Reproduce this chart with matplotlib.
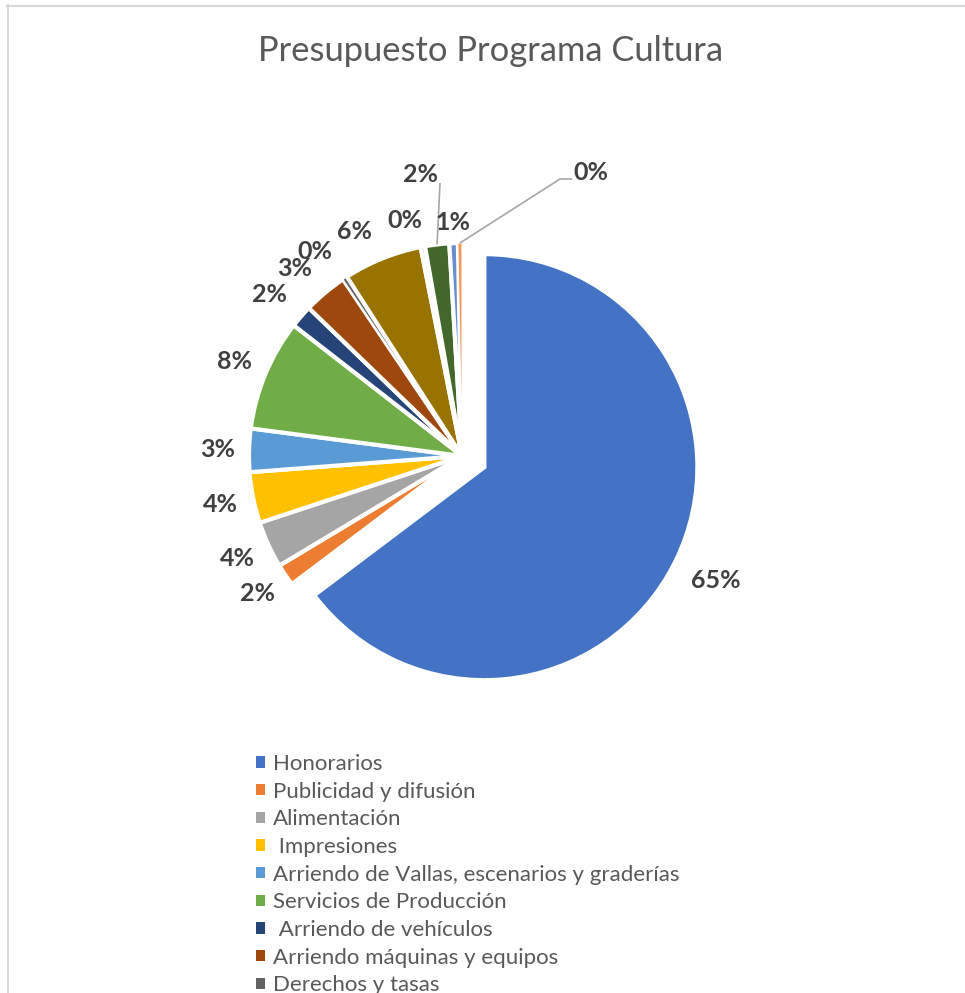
import matplotlib
matplotlib.use("Agg")
import matplotlib.pyplot as plt
import matplotlib.patches as mpatches
from matplotlib.lines import Line2D
import numpy as np

# ---------------- data ----------------
title = "Presupuesto Programa Cultura"
categories = ["Honorarios", "Publicidad y difusión", "Alimentación", " Impresiones",
              "Arriendo de Vallas, escenarios y graderías", "Servicios de Producción",
              " Arriendo de vehículos", "Arriendo máquinas y equipos", "Derechos y tasas",
              "", "", "", "", ""]
values = [64.72, 1.67, 3.53, 3.86, 3.28, 8.44, 1.72, 3.33, 0.36, 5.97, 0.33, 1.83, 0.64, 0.31]
colors = ["#4472C4", "#ED7D31", "#A5A5A5", "#FFC000", "#5B9BD5", "#70AD47",
          "#264478", "#9E480E", "#636363", "#997300", "#255E91", "#43682B",
          "#698ED0", "#F1975A"]
n_legend = 9  # entries visible in the figure

# ---------------- figure ----------------
W, H = 965, 993
fig = plt.figure(figsize=(W / 100, H / 100), dpi=100)
fig.patch.set_facecolor("white")
ax = fig.add_axes([0, 0, 1, 1])

cx, cy, R = 462, H - 456, 213
explode = [25] + [0] * (len(values) - 1)   # data units (pixels)
label_font = dict(family=["Lato", "DejaVu Sans"], weight="bold", size=18, color="#404040")

wedges, texts, autotexts = ax.pie(
    values, colors=colors, explode=explode, startangle=90, counterclock=False,
    center=(cx, cy), radius=R, autopct="%1.0f%%", pctdistance=1.18,
    wedgeprops=dict(edgecolor="white", linewidth=3), textprops=label_font)

wedges[8].set_linewidth(0.8)    # very thin slices stay visible
wedges[13].set_linewidth(0.8)

ax.set_xlim(0, W)
ax.set_ylim(0, H)
ax.set_aspect("auto")
ax.axis("off")

# place labels just outside the end of each slice (box-aware, like "outside end")
renderer = fig.canvas.get_renderer()
gap = 14
# small label nudges (pixels, +x right, +y down) to mimic the collision-avoided layout
nudges = {0: (5, 0), 6: (-6, 0), 7: (-10, 0), 8: (-13, 0), 9: (-17, 0), 10: (-13, 0), 12: (0, 3)}
overrides = {11: dict(text=(420, 175), path=[(440, 183)]),
             13: dict(text=(591, 173), path=[(560, 179), (572, 179)])}
for i, (w, t) in enumerate(zip(wedges, autotexts)):
    if i in overrides:
        continue
    th = np.deg2rad((w.theta1 + w.theta2) / 2)
    ux, uy = np.cos(th), np.sin(th)
    bb = t.get_window_extent(renderer)
    hw, hh = bb.width / 2, bb.height / 2 * 0.8
    d = w.r + gap + hw * abs(ux) + hh * abs(uy)
    ndx, ndy = nudges.get(i, (0, 0))
    t.set_position((w.center[0] + d * ux + ndx, w.center[1] + d * uy - ndy))

# labels moved with leader lines (pixel positions, y from top)
leader_col = "#A6A6A6"
for i, spec in overrides.items():
    w = wedges[i]
    th = np.deg2rad((w.theta1 + w.theta2) / 2)
    ox = w.center[0] + w.r * np.cos(th)
    oy = w.center[1] + w.r * np.sin(th)
    xs = [ox] + [p[0] for p in spec["path"]]
    ys = [oy] + [H - p[1] for p in spec["path"]]
    ax.plot(xs, ys, color=leader_col, lw=1.2, solid_capstyle="butt")
    autotexts[i].set_position((spec["text"][0], H - spec["text"][1]))

# title
fig.text(491 / W, 1 - 51 / H, title, ha="center", va="center", fontsize=24.8,
         color="#595959", family=["Lato", "DejaVu Sans"])

# legend
handles = [mpatches.Patch(facecolor=c, edgecolor="none") for c in colors[:n_legend]]
leg = fig.legend(handles, categories[:n_legend], loc="upper left",
                 bbox_to_anchor=(256 / W, 1 - 754 / H), bbox_transform=fig.transFigure,
                 frameon=False, borderpad=0, borderaxespad=0,
                 handlelength=0.4, handleheight=0.4, handletextpad=0.36,
                 labelspacing=0.345, prop=dict(family=["Lato", "DejaVu Sans"], size=16))
for t in leg.get_texts():
    t.set_color("#595959")

# chart area border (left and top visible)
fig.add_artist(Line2D([8 / W, 8 / W], [0, 1 - 5 / H], transform=fig.transFigure,
                      color="#D9D9D9", lw=1.5))
fig.add_artist(Line2D([7 / W, 1], [1 - 5.5 / H, 1 - 5.5 / H], transform=fig.transFigure,
                      color="#D9D9D9", lw=1.5))

fig.savefig("out.png", dpi=100, facecolor="white")
